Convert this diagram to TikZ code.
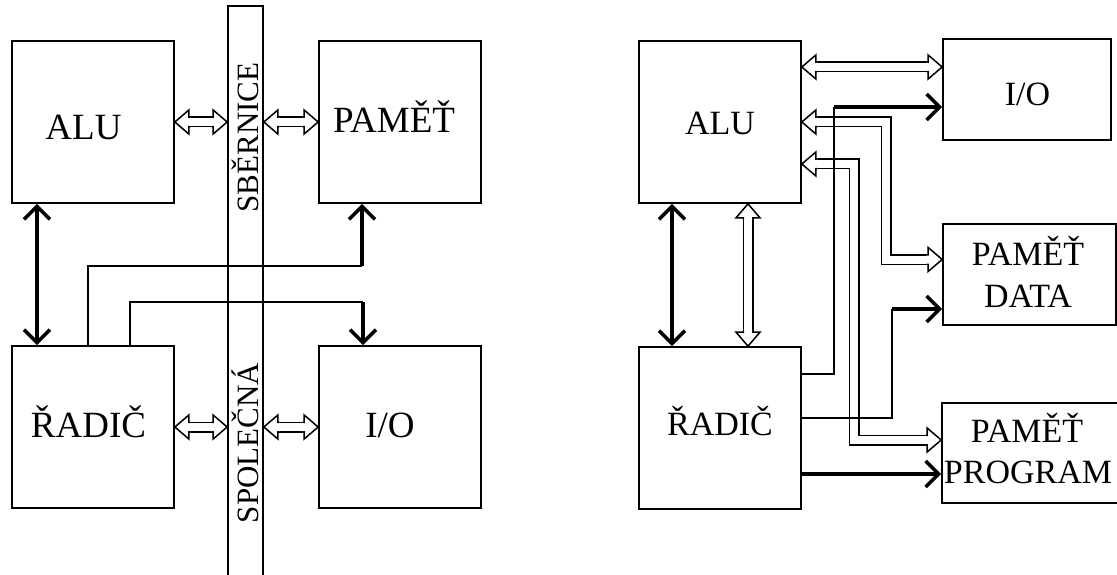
\documentclass[tikz,border=0pt]{standalone}
\usepackage{fontspec}
\setmainfont{Liberation Serif}
\usetikzlibrary{arrows.meta,calc}
\newcommand\hhead[2]{%
  \begin{scope}[shift={#1}, rotate=#2]
    \draw[line width=1.5pt, fill=white, line join=miter]
      (-15.5,4.75) -- (-14,4.75) -- (-14,12) -- (0,0) -- (-14,-12) -- (-14,-4.75) -- (-15.5,-4.75);
  \end{scope}}
\tikzset{
  box/.style={draw, line width=1.7pt, minimum width=162pt, minimum height=162pt, inner sep=0pt},
  rbox/.style={draw, line width=1.7pt, inner sep=0pt},
  txt/.style={font=\fontsize{34}{40}\selectfont, inner sep=0pt, anchor=base},
  ltxt/.style={font=\fontsize{37}{44}\selectfont, inner sep=0pt, anchor=base},
  bustxt/.style={font=\fontsize{31}{36}\selectfont, inner sep=0pt, rotate=90},
  conn/.style={line width=1.7pt},
  hollowline/.style={line width=1.5pt, double=white, double distance=8pt, shorten <=14pt, shorten >=14pt},
  thk/.style={line width=3.5pt, -{Straight Barb[length=13pt,width=26pt]}},
  thkdbl/.style={line width=3.5pt, {Straight Barb[length=13pt,width=26pt]}-{Straight Barb[length=13pt,width=26pt]}},
}
\begin{document}
\begin{tikzpicture}[x=1pt, y=-1pt]
\useasboundingbox (0,0) rectangle (1117,575);

% ---------------- left diagram ----------------
\node[box] (alu) at (93,122) {};
\node[box] (pam) at (400,122) {};
\node[box] (radic) at (93,427) {};
\node[box] (io) at (400,427) {};
\node[draw, line width=1.7pt, minimum width=35pt, minimum height=574pt, inner sep=0pt] (bus) at (245.5,293) {};

\node[ltxt] (talu) at (83.5,140) {ALU};
\node[ltxt] (tpam) at (394,133) {PAMĚŤ};
\node[ltxt] (tradic) at (88.5,437) {ŘADIČ};
\node[ltxt] (tio) at (390,437) {I/O};
\node[bustxt] (sber) at (245.5,137.5) {SBĚRNICE};
\node[bustxt] (spol) at (245.5,443) {SPOLEČNÁ};

% hollow arrows to the bus
\coordinate (a1) at (alu.east);
\coordinate (a2) at (alu.east -| bus.west);
\draw[hollowline] (a1) -- (a2);
\hhead{(a1)}{180} \hhead{(a2)}{0}
\coordinate (b1) at (pam.west -| bus.east);
\coordinate (b2) at (pam.west);
\draw[hollowline] (b1) -- (b2);
\hhead{(b1)}{180} \hhead{(b2)}{0}
\coordinate (c1) at (radic.east);
\coordinate (c2) at (radic.east -| bus.west);
\draw[hollowline] (c1) -- (c2);
\hhead{(c1)}{180} \hhead{(c2)}{0}
\coordinate (e1) at (io.west -| bus.east);
\coordinate (e2) at (io.west);
\draw[hollowline] (e1) -- (e2);
\hhead{(e1)}{180} \hhead{(e2)}{0}

% control lines
\draw[thkdbl] ($(alu.south)+(-56,0)$) -- ($(radic.north)+(-56,0)$);
\coordinate (l1) at ($(pam.south)+(-38,62)$);
\draw[conn] ($(radic.north)+(-5,0)$) |- (l1);
\draw[thk] (l1) -- (l1 |- pam.south);
\coordinate (l2) at ($(io.north)+(-37,-43)$);
\draw[conn] ($(radic.north)+(37,0)$) |- (l2);
\draw[thk] (l2) -- (l2 |- io.north);

% ---------------- right diagram ----------------
\node[box] (alu2) at (720,122) {};
\node[box] (radic2) at (720,428) {};
\node[rbox, minimum width=168pt, minimum height=101pt] (io2) at (1027,89.5) {};
\node[rbox, minimum width=173pt, minimum height=101pt] (data) at (1029.5,274.5) {};
\node[rbox, minimum width=178pt, minimum height=100pt] (prog) at (1031,453) {};

\node[txt] (talu2) at (720,135) {ALU};
\node[txt] (tradic2) at (720,435) {ŘADIČ};
\node[txt] (tio2) at (1027.5,106) {I/O};
\node[txt] (tdata1) at (1028,265) {PAMĚŤ};
\node[txt] (tdata2) at (1028,307) {DATA};
\node[txt] (tprog1) at (1027,442) {PAMĚŤ};
\node[txt] (tprog2) at (1028,483) {PROGRAM};

% hollow arrows
\coordinate (h1a) at ($(alu2.east)+(0,-55)$);
\coordinate (h1b) at (h1a -| io2.west);
\draw[hollowline] (h1a) -- (h1b);
\hhead{(h1a)}{180} \hhead{(h1b)}{0}

\coordinate (h2a) at ($(alu2.south)+(28,0)$);
\coordinate (h2b) at ($(radic2.north)+(28,0)$);
\draw[hollowline] (h2a) -- (h2b);
\hhead{(h2a)}{90} \hhead{(h2b)}{-90}

\coordinate (d5) at ($(data.west)+(-56,-15)$);
\coordinate (h5a) at (alu2.east);
\coordinate (h5b) at (d5 -| data.west);
\draw[hollowline] (h5a) -| (d5) -- (h5b);
\hhead{(h5a)}{180} \hhead{(h5b)}{0}

\coordinate (d6) at ($(prog.west)+(-87,-13)$);
\coordinate (h6a) at ($(alu2.east)+(0,42)$);
\coordinate (h6b) at (d6 -| prog.west);
\draw[hollowline] (h6a) -| (d6) -- (h6b);
\hhead{(h6a)}{180} \hhead{(h6b)}{0}

% control lines
\draw[thkdbl] ($(alu2.south)+(-48,0)$) -- ($(radic2.north)+(-48,0)$);
\coordinate (c4) at ($(io2.west)+(-108,17.5)$);
\draw[conn] ($(radic2.east)+(0,-54)$) -| (c4);
\draw[thk] (c4) -- (c4 -| io2.west);
\coordinate (c7) at ($(data.west)+(-50,34.5)$);
\draw[conn] ($(radic2.east)+(0,-10)$) -| (c7);
\draw[thk] (c7) -- (c7 -| data.west);
\coordinate (s8) at ($(radic2.east)+(0,46)$);
\draw[thk] (s8) -- (s8 -| prog.west);
\end{tikzpicture}
\end{document}
